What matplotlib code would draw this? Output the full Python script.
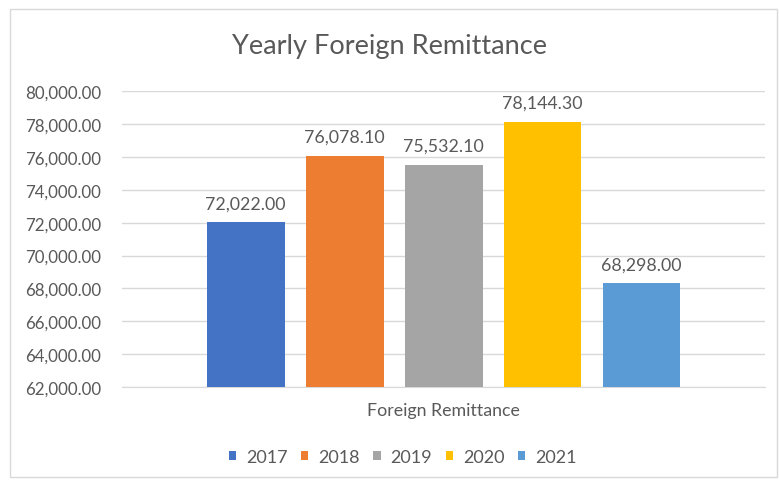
import matplotlib.pyplot as plt
from matplotlib.patches import Rectangle
from matplotlib.ticker import FuncFormatter

# Yearly remittance totals
years = ["2017", "2018", "2019", "2020", "2021"]
values = [72022.00, 76078.10, 75532.10, 78144.30, 68298.00]
colors = ["#4472C4", "#ED7D31", "#A5A5A5", "#FFC000", "#5B9BD5"]
category = "Foreign Remittance"

plt.rcParams["font.family"] = ["Lato", "DejaVu Sans"]
text_color = "#595959"

fig = plt.figure(figsize=(7.79, 4.85), dpi=100)
ax = fig.add_axes([0.157, 0.2, 0.825, 0.61])

# Chart-area border
fig.patches.append(Rectangle((0.013, 0.014), 0.984, 0.966,
                             transform=fig.transFigure, fill=False,
                             edgecolor="#D9D9D9", linewidth=1))

pitch = 0.154
width = 0.121
n = len(values)
for i, (yr, v, c) in enumerate(zip(years, values, colors)):
    xpos = (i - (n - 1) / 2) * pitch
    ax.bar(xpos, v, width=width, color=c, label=yr, zorder=3)
    ax.annotate("{:,.2f}".format(v), (xpos, v), xytext=(0, 8),
                textcoords="offset points", ha="center", va="bottom",
                fontsize=12.8, color=text_color)

ax.set_xlim(-0.5, 0.5)
ax.set_ylim(62000, 80000)
ax.set_yticks(range(62000, 80001, 2000))
ax.yaxis.set_major_formatter(FuncFormatter(lambda v, p: "{:,.2f}".format(v)))
ax.set_xticks([0])
ax.set_xticklabels([category])
ax.tick_params(axis="x", length=0, labelsize=12.8, colors=text_color, pad=11)
ax.tick_params(axis="y", length=0, labelsize=12.2, colors=text_color, pad=15)
ax.grid(axis="y", color="#D9D9D9", linewidth=1, zorder=0)
for side in ["top", "right", "left"]:
    ax.spines[side].set_visible(False)
ax.spines["bottom"].set_color("#D9D9D9")

fig.suptitle("Yearly Foreign Remittance", y=0.905, va="center",
             fontsize=19.5, color=text_color)
fig.legend(loc="center", bbox_to_anchor=(0.517, 0.056), ncol=5,
           frameon=False, fontsize=13, labelcolor=text_color,
           handlelength=0.4, handleheight=0.4, handletextpad=0.55,
           columnspacing=0.75)

fig.savefig("out.png")
